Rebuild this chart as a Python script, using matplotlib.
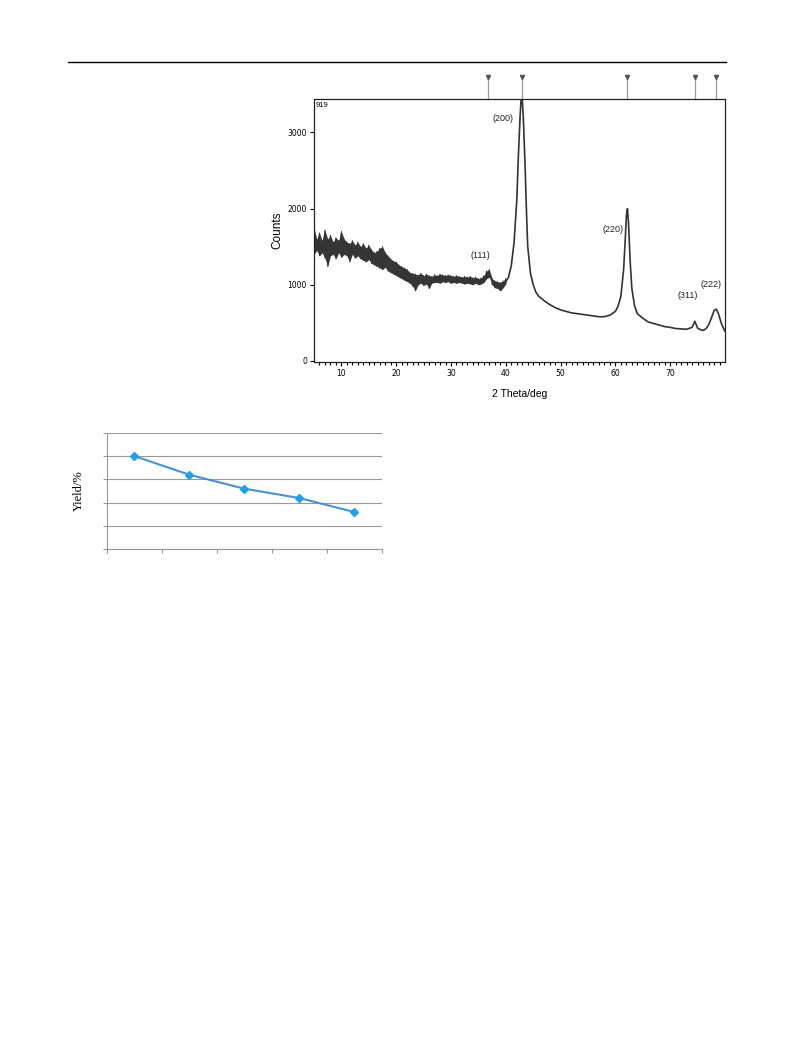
import matplotlib
matplotlib.use("Agg")
import matplotlib.pyplot as plt
from matplotlib.lines import Line2D

# ---------------- XRD data ----------------
# noisy low-angle region: envelope of the scan
env_2theta = [5, 5.5, 6, 6.5, 7, 7.5, 8, 8.5, 9, 9.5, 10, 10.5, 11, 11.5, 12, 12.5,
              13, 13.5, 14, 14.5, 15, 15.5, 16, 16.5, 17, 17.5, 18, 18.5, 19, 19.5,
              20, 20.5, 21, 21.5, 22, 22.5, 23, 23.5, 24, 24.5, 25, 25.5, 26, 26.5,
              27, 27.5, 28, 28.5, 29, 29.5, 30, 30.5, 31, 31.5, 32, 32.5, 33, 33.5,
              34, 34.5, 35, 35.5, 36, 36.5, 37, 37.5, 38, 38.5, 39, 39.5, 40]
env_upper = [1750, 1600, 1680, 1580, 1720, 1600, 1650, 1560, 1620, 1580, 1700, 1600,
             1560, 1540, 1580, 1520, 1560, 1500, 1540, 1480, 1520, 1460, 1420, 1440,
             1480, 1500, 1420, 1380, 1340, 1310, 1300, 1260, 1240, 1220, 1200, 1160,
             1150, 1140, 1130, 1150, 1120, 1140, 1120, 1110, 1130, 1120, 1140, 1130,
             1120, 1130, 1120, 1110, 1120, 1110, 1100, 1110, 1100, 1110, 1090, 1100,
             1080, 1090, 1120, 1180, 1200, 1080, 1050, 1040, 1030, 1050, 1080]
env_lower = [1400, 1450, 1380, 1420, 1350, 1240, 1380, 1400, 1340, 1420, 1360, 1400,
             1380, 1300, 1400, 1350, 1380, 1340, 1320, 1300, 1330, 1280, 1260, 1240,
             1220, 1200, 1230, 1180, 1160, 1140, 1120, 1100, 1080, 1060, 1040, 1020,
             980, 920, 1000, 1020, 990, 1010, 950, 1020, 1030, 1030, 1020, 1040,
             1030, 1040, 1020, 1030, 1020, 1030, 1020, 1010, 1020, 1010, 1000, 1020,
             1000, 1010, 1030, 1080, 1100, 1000, 960, 950, 920, 960, 1010]

# smooth high-angle profile
prof_2theta = [40, 40.5, 41, 41.5, 42, 42.3, 42.6, 42.8, 43.0, 43.2, 43.5, 43.8, 44,
               44.5, 45, 45.5, 46, 47, 48, 49, 50, 51, 52, 53, 54, 55, 56, 57, 58, 59,
               60, 60.5, 61, 61.5, 61.8, 62.0, 62.2, 62.4, 62.7, 63, 63.5, 64, 65, 66,
               67, 68, 69, 70, 71, 72, 73, 74, 74.5, 75, 75.5, 76, 76.5, 77, 77.5, 78,
               78.4, 78.8, 79.3, 79.7, 80]
prof_counts = [1040, 1100, 1250, 1550, 2100, 2700, 3200, 3450, 3440, 3200, 2600, 1900,
               1500, 1150, 1000, 900, 850, 790, 740, 700, 670, 650, 630, 620, 610, 600,
               590, 580, 580, 600, 650, 720, 850, 1200, 1600, 1900, 2000, 1800, 1300,
               950, 720, 620, 560, 510, 490, 470, 450, 440, 425, 420, 415, 440, 520,
               430, 410, 400, 420, 470, 560, 660, 680, 620, 500, 430, 390]

ref_marks = [36.8, 42.9, 62.2, 74.5, 78.3]
peak_labels = ["(111)", "(200)", "(220)", "(311)", "(222)"]
peak_label_pos = [(35.3, 1380), (39.5, 3184), (59.5, 1720), (73.2, 855), (77.4, 1000)]

x_ticks = [10, 20, 30, 40, 50, 60, 70]
y_ticks = [0, 1000, 2000, 3000]

# ---------------- Yield data ----------------
yield_cat = [1, 2, 3, 4, 5]
yield_val = [80, 64, 52, 44, 32]

W, H = 793, 1053
fig = plt.figure(figsize=(W / 100, H / 100), dpi=100)
fig.patch.set_facecolor("white")

# page rule
fig.add_artist(Line2D([68 / W, 726 / W], [1 - 62 / H, 1 - 62 / H], color="black", lw=1.0))

# ---------------- XRD axes ----------------
ax = fig.add_axes([314 / W, 1 - 362 / H, 411 / W, 263 / H])
col = "#333333"
# jagged noisy band: alternate upper / lower readings
zig_x, zig_y = [], []
for xv, up, lo in zip(env_2theta, env_upper, env_lower):
    zig_x += [xv, xv]
    zig_y += [up, lo]
ax.fill_between(env_2theta, env_lower, env_upper, color="#3a3a3a", lw=0)
ax.plot(zig_x, zig_y, color=col, lw=0.7)
ax.plot(prof_2theta, prof_counts, color=col, lw=1.2)
ax.set_xlim(5, 80)
ax.set_ylim(-15, 3440)
ax.set_xticks(x_ticks)
ax.set_xticks(range(6, 80), minor=True)
ax.set_yticks(y_ticks)
ax.tick_params(axis="both", which="major", direction="out", length=3, width=0.8,
               labelsize=5.5, pad=2)
ax.tick_params(axis="x", which="minor", direction="out", length=2, width=0.8)
ax.tick_params(top=False, right=False)
for s in ax.spines.values():
    s.set_linewidth(0.9)
    s.set_color("#222222")
ax.set_ylabel("Counts", fontsize=8.5, labelpad=3, family="Liberation Sans")
ax.set_xlabel("2 Theta/deg", fontsize=7.5, labelpad=8, family="Liberation Sans")
ax.text(0.004, 0.988, "919", transform=ax.transAxes, fontsize=5.5, ha="left", va="top",
        family="Liberation Sans")
for lab, (px, py) in zip(peak_labels, peak_label_pos):
    ax.text(px, py, lab, fontsize=6.5, ha="center", va="center", color="#222222",
            family="Liberation Sans")
# reference markers above the plot
for m in ref_marks:
    ax.plot([m, m], [1.0, 1.08], transform=ax.get_xaxis_transform(), color="#9a9a9a",
            lw=0.9, clip_on=False)
    ax.plot([m], [1.085], transform=ax.get_xaxis_transform(), marker="v",
            color="#555555", markersize=3, clip_on=False)

# ---------------- Yield axes ----------------
ay = fig.add_axes([106.7 / W, 1 - 549.3 / H, 275 / W, 116.6 / H])
ay.plot(yield_cat, yield_val, color="#4a90d9", lw=1.5, marker="D", markersize=4,
        markerfacecolor="#1fa0e8", markeredgecolor="#1fa0e8")
ay.set_xlim(0.5, 5.5)
ay.set_ylim(0, 100)
ay.set_yticks([0, 20, 40, 60, 80, 100])
ay.set_xticks([0.5, 1.5, 2.5, 3.5, 4.5, 5.5])
ay.set_xticklabels([])
ay.set_yticklabels([])
ay.grid(axis="y", color="#999999", lw=0.8)
ay.set_axisbelow(True)
ay.tick_params(axis="both", direction="out", length=3, color="#999999", width=0.8)
for side in ["top", "right"]:
    ay.spines[side].set_visible(False)
for side in ["left", "bottom"]:
    ay.spines[side].set_color("#999999")
    ay.spines[side].set_linewidth(0.8)
ay.set_ylabel("Yield/%", fontsize=9, family="Liberation Serif", labelpad=9)

fig.savefig("out.png", dpi=100)
